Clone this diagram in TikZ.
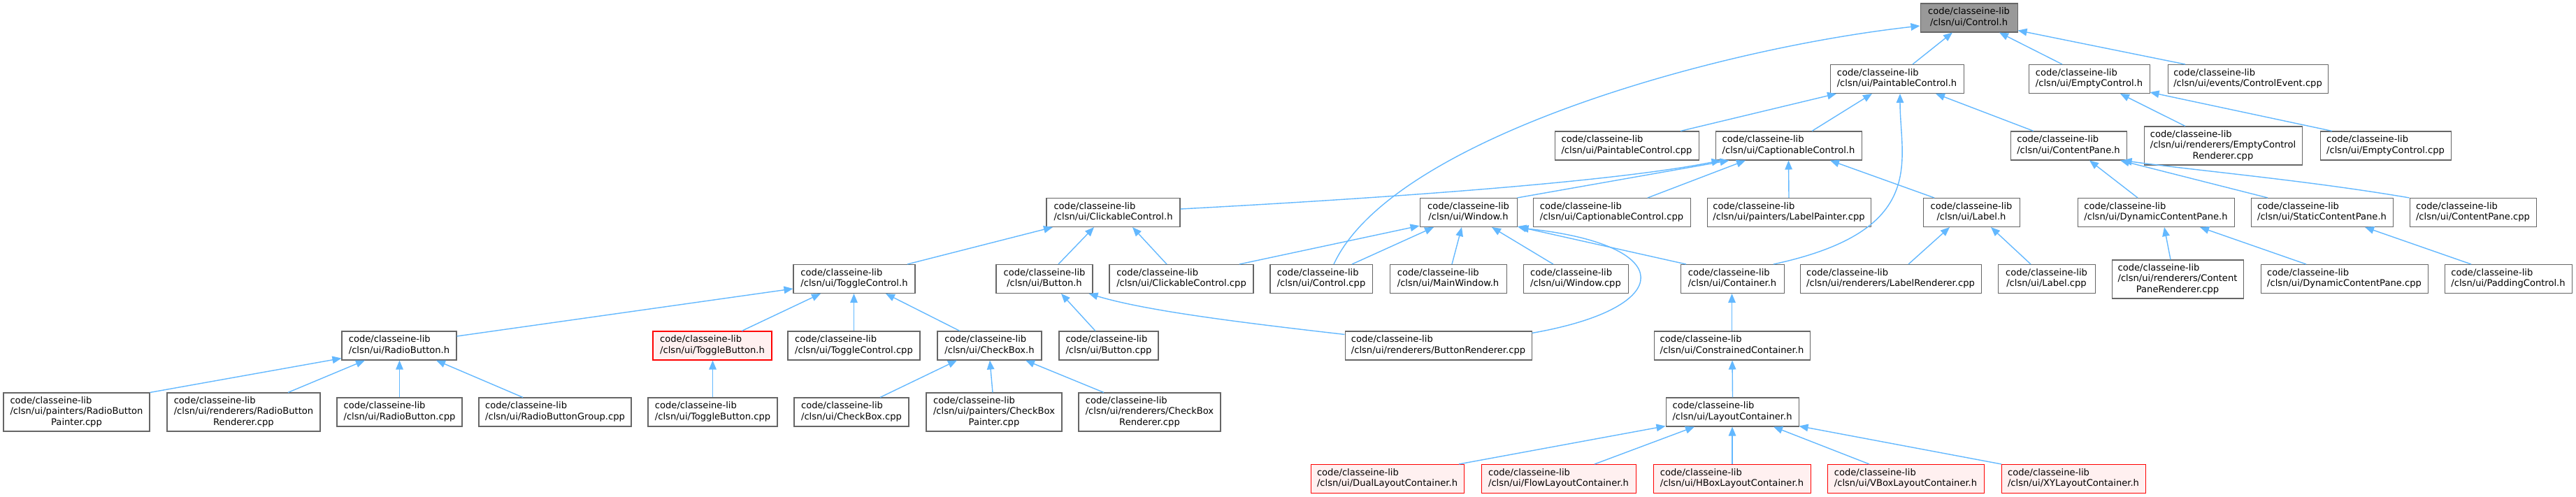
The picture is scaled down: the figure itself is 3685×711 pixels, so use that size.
\documentclass[tikz,border=0pt]{standalone}
\usepackage{fontspec}
\setmainfont{DejaVu Sans}
\usetikzlibrary{arrows.meta,calc}
\definecolor{edgeblue}{HTML}{63B8FF}
\definecolor{boxgray}{HTML}{666666}
\definecolor{fillgray}{HTML}{999999}
\definecolor{redfill}{HTML}{FFF0F0}
\definecolor{redline}{HTML}{FF0000}
\newcommand{\dxtwo}[1]{\begin{tabular}{@{}l@{}}code/classeine-lib\\\multicolumn{1}{@{}c@{}}{#1}\end{tabular}}
\newcommand{\dxthree}[2]{\begin{tabular}{@{}l@{}}code/classeine-lib\\#1\\\multicolumn{1}{@{}c@{}}{#2}\end{tabular}}
\tikzset{
  box/.style={draw=boxgray, line width=1.05pt, fill=white, inner sep=0pt,
    minimum height=41pt, font=\fontsize{13.1pt}{15.5pt}\selectfont},
  tall/.style={minimum height=55pt},
  redbox/.style={box, draw=redline, fill=redfill},
  rootbox/.style={box, fill=fillgray},
  dep/.style={draw=edgeblue, line width=1.4pt, -{Triangle[length=13pt,width=10.5pt]}}
}
\begin{document}
\begin{tikzpicture}[x=1pt,y=-1pt]
\useasboundingbox (0,0) rectangle (3685,711);
% row 0
\node[rootbox, minimum width=139pt] (ctrlh) at (2816.5,25.5) {\dxtwo{/clsn/ui/Control.h}};
% row 1
\node[box, minimum width=191pt] (painth) at (2713.5,113) {\dxtwo{/clsn/ui/PaintableControl.h}};
\node[box, minimum width=173pt] (emptyh) at (2988.5,113) {\dxtwo{/clsn/ui/EmptyControl.h}};
\node[box, minimum width=229pt] (ctrlevt) at (3215.5,113) {\dxtwo{/clsn/ui/events/ControlEvent.cpp}};
% row 2
\node[box, minimum width=206pt] (paintcpp) at (2327,208.5) {\dxtwo{/clsn/ui/PaintableControl.cpp}};
\node[box, minimum width=209pt] (captionh) at (2558.5,208.5) {\dxtwo{/clsn/ui/CaptionableControl.h}};
\node[box, minimum width=166pt] (contenth) at (2959,208.5) {\dxtwo{/clsn/ui/ContentPane.h}};
\node[box, tall, minimum width=226pt] (emptyrend) at (3180,208.5) {\dxthree{/clsn/ui/renderers/EmptyControl}{Renderer.cpp}};
\node[box, minimum width=187pt] (emptycpp) at (3412.5,208.5) {\dxtwo{/clsn/ui/EmptyControl.cpp}};
% row 3
\node[box, minimum width=191pt] (clickh) at (1592.5,304) {\dxtwo{/clsn/ui/ClickableControl.h}};
\node[box, minimum width=139pt] (windowh) at (2100.5,304) {\dxtwo{/clsn/ui/Window.h}};
\node[box, minimum width=225pt] (captioncpp) at (2305.5,304) {\dxtwo{/clsn/ui/CaptionableControl.cpp}};
\node[box, minimum width=234pt] (labelpaint) at (2559,304) {\dxtwo{/clsn/ui/painters/LabelPainter.cpp}};
\node[box, minimum width=138pt] (labelh) at (2820,304) {\dxtwo{/clsn/ui/Label.h}};
\node[box, minimum width=224pt] (dcph) at (3084,304) {\dxtwo{/clsn/ui/DynamicContentPane.h}};
\node[box, minimum width=203pt] (scph) at (3321.5,304) {\dxtwo{/clsn/ui/StaticContentPane.h}};
\node[box, minimum width=181pt] (contentcpp) at (3537.5,304) {\dxtwo{/clsn/ui/ContentPane.cpp}};
% row 4
\node[box, minimum width=174pt] (toggleh) at (1222,399) {\dxtwo{/clsn/ui/ToggleControl.h}};
\node[box, minimum width=138pt] (buttonh) at (1494,399) {\dxtwo{/clsn/ui/Button.h}};
\node[box, minimum width=206pt] (clickcpp) at (1690,399) {\dxtwo{/clsn/ui/ClickableControl.cpp}};
\node[box, minimum width=146pt] (ctrlcpp) at (1890,399) {\dxtwo{/clsn/ui/Control.cpp}};
\node[box, minimum width=167pt] (mainwin) at (2071.5,399) {\dxtwo{/clsn/ui/MainWindow.h}};
\node[box, minimum width=150pt] (wincpp) at (2254,399) {\dxtwo{/clsn/ui/Window.cpp}};
\node[box, minimum width=148pt] (containerh) at (2478,399) {\dxtwo{/clsn/ui/Container.h}};
\node[box, minimum width=259pt] (labelrend) at (2704.5,399) {\dxtwo{/clsn/ui/renderers/LabelRenderer.cpp}};
\node[box, minimum width=139pt] (labelcpp) at (2927.5,399) {\dxtwo{/clsn/ui/Label.cpp}};
\node[box, tall, minimum width=188pt] (cprend) at (3115,399.5) {\dxthree{/clsn/ui/renderers/Content}{PaneRenderer.cpp}};
\node[box, minimum width=239pt] (dcpcpp) at (3353.5,399) {\dxtwo{/clsn/ui/DynamicContentPane.cpp}};
\node[box, minimum width=182pt] (paddingh) at (3588,399) {\dxtwo{/clsn/ui/PaddingControl.h}};
% row 5
\node[box, minimum width=164pt] (radioh) at (571,494.5) {\dxtwo{/clsn/ui/RadioButton.h}};
\node[redbox, minimum width=170pt] (toggbh) at (1019,494.5) {\dxtwo{/clsn/ui/ToggleButton.h}};
\node[box, minimum width=189pt] (toggcpp) at (1221.5,494.5) {\dxtwo{/clsn/ui/ToggleControl.cpp}};
\node[box, minimum width=149pt] (checkh) at (1415.5,494.5) {\dxtwo{/clsn/ui/CheckBox.h}};
\node[box, minimum width=142pt] (buttoncpp) at (1586,494.5) {\dxtwo{/clsn/ui/Button.cpp}};
\node[box, minimum width=267pt] (buttonrend) at (2057.5,494.5) {\dxtwo{/clsn/ui/renderers/ButtonRenderer.cpp}};
\node[box, minimum width=223pt] (constrh) at (2477.5,494.5) {\dxtwo{/clsn/ui/ConstrainedContainer.h}};
% row 6
\node[box, tall, minimum width=209pt] (rbpaint) at (109.5,589.5) {\dxthree{/clsn/ui/painters/RadioButton}{Painter.cpp}};
\node[box, tall, minimum width=219pt] (rbrend) at (348.5,589.5) {\dxthree{/clsn/ui/renderers/RadioButton}{Renderer.cpp}};
\node[box, minimum width=179pt] (rbcpp) at (571.5,589.5) {\dxtwo{/clsn/ui/RadioButton.cpp}};
\node[box, minimum width=218pt] (rbgroup) at (794,589.5) {\dxtwo{/clsn/ui/RadioButtonGroup.cpp}};
\node[box, minimum width=185pt] (toggbcpp) at (1019.5,589.5) {\dxtwo{/clsn/ui/ToggleButton.cpp}};
\node[box, minimum width=164pt] (checkcpp) at (1218,589.5) {\dxtwo{/clsn/ui/CheckBox.cpp}};
\node[box, tall, minimum width=194pt] (cbpaint) at (1422,589.5) {\dxthree{/clsn/ui/painters/CheckBox}{Painter.cpp}};
\node[box, tall, minimum width=203pt] (cbrend) at (1644.5,589.5) {\dxthree{/clsn/ui/renderers/CheckBox}{Renderer.cpp}};
\node[box, minimum width=190pt] (layouth) at (2478,589.5) {\dxtwo{/clsn/ui/LayoutContainer.h}};
% row 7
\node[redbox, minimum width=219pt] (dual) at (1984.5,685) {\dxtwo{/clsn/ui/DualLayoutContainer.h}};
\node[redbox, minimum width=221pt] (flow) at (2229.5,685) {\dxtwo{/clsn/ui/FlowLayoutContainer.h}};
\node[redbox, minimum width=225pt] (hbox) at (2477.5,685) {\dxtwo{/clsn/ui/HBoxLayoutContainer.h}};
\node[redbox, minimum width=224pt] (vbox) at (2726,685) {\dxtwo{/clsn/ui/VBoxLayoutContainer.h}};
\node[redbox, minimum width=206pt] (xy) at (2966,685) {\dxtwo{/clsn/ui/XYLayoutContainer.h}};

% edges
\draw[dep] ([xshift=22.5pt]painth.north) -- ([xshift=-23.5pt]ctrlh.south);
\draw[dep] ([xshift=-38.5pt]emptyh.north) -- ([xshift=43.5pt]ctrlh.south);
\draw[dep] ([xshift=-89.5pt]ctrlevt.north) -- ([yshift=3pt]ctrlh.south east);
\draw[dep] ([xshift=18pt]ctrlcpp.north) .. controls (1990,200) and (2450,70) .. ([yshift=-11.5pt]ctrlh.west);
\draw[dep] ([xshift=77pt]paintcpp.north) -- ([xshift=-86.5pt]painth.south);
\draw[dep] ([xshift=33.5pt]captionh.north) -- ([xshift=-35.5pt]painth.south);
\draw[dep] ([xshift=-50pt]contenth.north) -- ([xshift=55.5pt]painth.south);
\draw[dep] ([xshift=59pt]containerh.north) .. controls (2760,330) and (2718,230) .. ([xshift=4.5pt]painth.south);
\draw[dep] ([xshift=-54pt]emptyrend.north) -- ([xshift=44.5pt]emptyh.south);
\draw[dep] ([xshift=-76.5pt]emptycpp.north) -- ([yshift=2pt]emptyh.south east);
\draw[dep] ([yshift=5pt]clickh.east) .. controls (1950,285) and (2300,262) .. ([xshift=-97pt]captionh.south);
\draw[dep] (windowh.north east) -- ([xshift=-85pt]captionh.south);
\draw[dep] ([xshift=51.5pt]captioncpp.north) -- ([xshift=-61.5pt]captionh.south);
\draw[dep] (labelpaint.north) -- (captionh.south);
\draw[dep] ([xshift=-53pt]labelh.north) -- ([xshift=59.5pt]captionh.south);
\draw[dep] ([xshift=-26pt]dcph.north) -- ([xshift=30pt]contenth.south);
\draw[dep] ([xshift=-77.5pt]scph.north) -- ([xshift=74pt]contenth.south);
\draw[dep] (contentcpp.north west) .. controls (3300,258) and (3150,245) .. ([xshift=-6pt]contenth.south east);
\draw[dep] ([xshift=76pt]toggleh.north) -- ([xshift=-86.5pt]clickh.south);
\draw[dep] ([xshift=20pt]buttonh.north) -- ([xshift=-27.5pt]clickh.south);
\draw[dep] ([xshift=-21pt]clickcpp.north) -- ([xshift=27.5pt]clickh.south);
\draw[dep] ([xshift=83pt]clickcpp.north) -- ([yshift=2pt]windowh.south west);
\draw[dep] ([xshift=44pt]ctrlcpp.north) -- ([xshift=-49.5pt]windowh.south);
\draw[dep] ([xshift=5.5pt]mainwin.north) -- ([xshift=-9.5pt]windowh.south);
\draw[dep] ([xshift=-32pt]wincpp.north) -- ([xshift=33.5pt]windowh.south);
\draw[dep] ([xshift=-66pt]containerh.north) -- ([yshift=1pt]windowh.south east);
\draw[dep] ([yshift=-3pt]buttonrend.north east) .. controls (2400,440) and (2400,350) .. ([yshift=-1pt,xshift=3pt]windowh.south east);
\draw[dep] ([yshift=-5pt]buttonrend.north west) .. controls (1780,462) and (1640,445) .. ([xshift=-6pt]buttonh.south east);
\draw[dep] ([xshift=25.5pt]labelrend.north) -- ([xshift=-31pt]labelh.south);
\draw[dep] ([xshift=-22.5pt]labelcpp.north) -- ([xshift=28pt]labelh.south);
\draw[dep] ([xshift=-10pt]cprend.north) -- ([xshift=12pt]dcph.south);
\draw[dep] ([xshift=-54.5pt]dcpcpp.north) -- ([xshift=63pt]dcph.south);
\draw[dep] ([xshift=-53pt]paddingh.north) -- ([xshift=61.5pt]scph.south);
\draw[dep] ([yshift=13.5pt]radioh.east) -- ([yshift=-14pt]toggleh.west);
\draw[dep] ([xshift=42pt]toggbh.north) -- ([xshift=-48pt]toggleh.south);
\draw[dep] (toggcpp.north) -- ([xshift=-0.5pt]toggleh.south);
\draw[dep] ([xshift=-42.5pt]checkh.north) -- ([xshift=45pt]toggleh.south);
\draw[dep] ([xshift=-19pt]buttoncpp.north) -- ([xshift=24pt]buttonh.south);
\draw[dep] (constrh.north) -- ([xshift=-0.5pt]containerh.south);
\draw[dep] (rbpaint.north east) -- ([yshift=3pt]radioh.south west);
\draw[dep] ([xshift=63.5pt]rbrend.north) -- ([xshift=-49pt]radioh.south);
\draw[dep] (rbcpp.north) -- ([xshift=0.5pt]radioh.south);
\draw[dep] ([xshift=-46pt]rbgroup.north) -- ([xshift=53pt]radioh.south);
\draw[dep] (toggbcpp.north) -- ([xshift=0.5pt]toggbh.south);
\draw[dep] ([xshift=41pt]checkcpp.north) -- ([xshift=-46.5pt]checkh.south);
\draw[dep] ([xshift=-2pt]cbpaint.north) -- ([xshift=0.5pt]checkh.south);
\draw[dep] ([xshift=-65.5pt]cbrend.north) -- ([xshift=51.5pt]checkh.south);
\draw[dep] ([xshift=0.5pt]layouth.north) -- ([xshift=0.5pt]constrh.south);
\draw[dep] ([xshift=102.5pt]dual.north) -- ([yshift=1pt]layouth.south west);
\draw[dep] ([xshift=51.5pt]flow.north) -- ([xshift=-54pt]layouth.south);
\draw[dep] ([xshift=0.5pt]hbox.north) -- (layouth.south);
\draw[dep] ([xshift=-52pt]vbox.north) -- ([xshift=59pt]layouth.south);
\draw[dep] ([xshift=-103pt]xy.north) -- ([yshift=1pt]layouth.south east);
\end{tikzpicture}
\end{document}
